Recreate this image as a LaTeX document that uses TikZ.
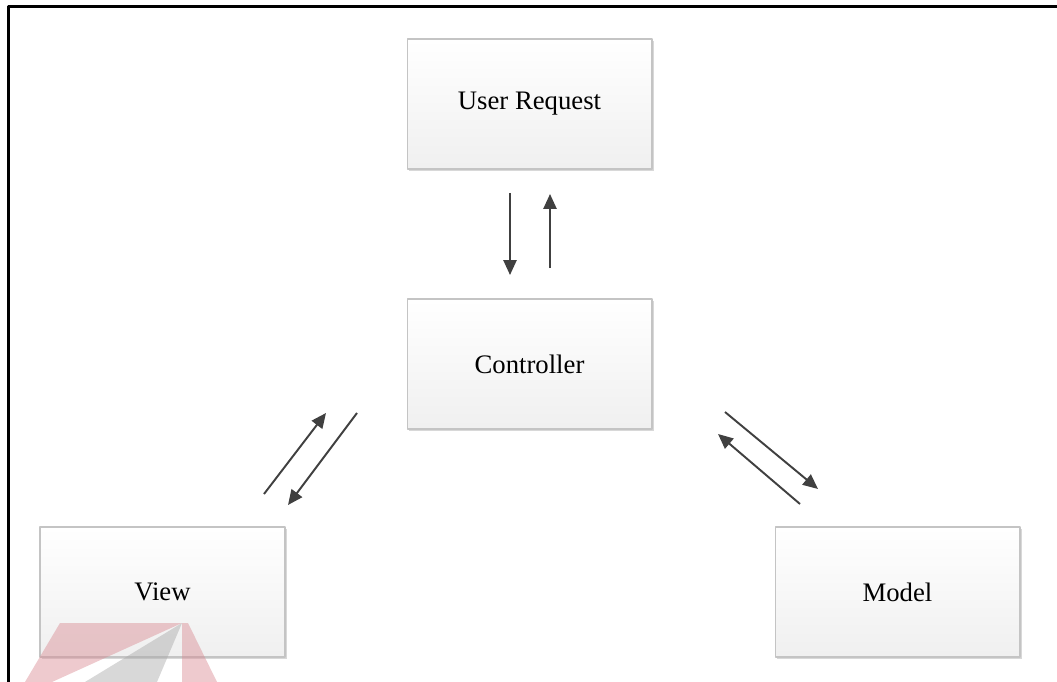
\documentclass[tikz,border=0pt]{standalone}
\usepackage{fontspec}
\setmainfont{Liberation Serif}
\usetikzlibrary{arrows.meta,shadows}
\definecolor{boxline}{HTML}{C4C4C4}
\definecolor{arrowgray}{HTML}{404040}
\definecolor{markred}{HTML}{D98A92}
\definecolor{markgray}{HTML}{A8A8A8}
\tikzset{
  mvcbox/.style={rectangle, draw=boxline, line width=0.6pt,
    top color=white, bottom color=black!6,
    minimum width=4.9cm, minimum height=2.6cm,
    font=\fontsize{15.2}{18}\selectfont,
    drop shadow={shadow xshift=1.3pt, shadow yshift=-1.3pt, fill=black!30, opacity=0.5}},
  flow/.style={draw=arrowgray, line width=1.1pt, -{Triangle[length=8.5pt,width=7.5pt]}}
}
\begin{document}
\begin{tikzpicture}[x=0.02cm,y=-0.02cm,line join=round]
			\useasboundingbox (0,0) rectangle (1057,682);
			% frame
			\draw[line width=1.4pt] (8.5,682)--(8.5,6.5)--(1057,6.5);
			% boxes
			\node[mvcbox] (request) at (529.5,104) {User Request};
			\node[mvcbox] (controller) at (529.5,364) {Controller};
			\node[mvcbox] (view) at (162.5,592) {View};
			\node[mvcbox] (model) at (897.5,592) {Model};
			% arrow ends
			\coordinate (R1) at (510,193);
			\coordinate (C1) at (510,275);
			\coordinate (C2) at (550,268);
			\coordinate (R2) at (550,194);
			\coordinate (V1) at (264,494);
			\coordinate (C3) at (326,413);
			\coordinate (C4) at (357,413);
			\coordinate (V2) at (288,505);
			\coordinate (C5) at (725,412);
			\coordinate (M1) at (818,489);
			\coordinate (M2) at (800,504);
			\coordinate (C6) at (718,434);
			\draw[flow] (R1)--(C1);
			\draw[flow] (C2)--(R2);
			\draw[flow] (V1)--(C3);
			\draw[flow] (C4)--(V2);
			\draw[flow] (C5)--(M1);
			\draw[flow] (M2)--(C6);
			% watermark
			\fill[markred,opacity=0.45] (60,623)--(182,623)--(52,682)--(25,682)--cycle;
			\fill[markgray,opacity=0.45] (182,623)--(85,682)--(157,682)--cycle;
			\fill[markred,opacity=0.45] (182,623)--(188,623)--(217,682)--(182,682)--cycle;
\end{tikzpicture}
\end{document}
